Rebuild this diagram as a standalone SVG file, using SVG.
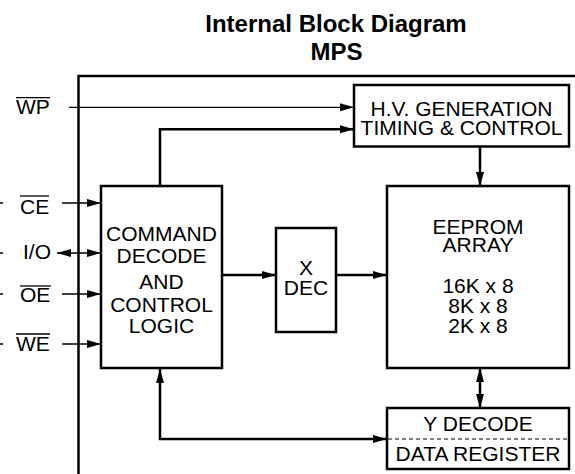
<svg xmlns="http://www.w3.org/2000/svg" width="575" height="474" viewBox="0 0 575 474">
<style>
text{font-family:"Liberation Sans",Arial,sans-serif;fill:#000;}
.t{font-size:21px;text-anchor:middle;}
.h{font-size:24px;font-weight:bold;text-anchor:middle;}
.l{font-size:21px;}
.box{fill:#fff;stroke:#000;stroke-width:2.5;}
.thick{fill:none;stroke:#000;stroke-width:2.5;}
.thin{fill:none;stroke:#000;stroke-width:1.3;}
.bar{stroke:#000;stroke-width:1.3;}
</style>
<defs>
<marker id="ah" markerUnits="userSpaceOnUse" markerWidth="15" markerHeight="9" refX="14" refY="4.5" orient="auto-start-reverse">
<path d="M0,0.5 L14,4.5 L0,8.5 z" fill="#000"/>
</marker>
</defs>
<g id="title">
<text class="h" x="336" y="32">Internal Block Diagram</text>
<text class="h" x="336.5" y="60">MPS</text>
</g>
<g id="frame">
<path class="thick" d="M78.5,474 V76 H575"/>
</g>
<g id="connectors">
<path class="thin" d="M69,107.3 H354" marker-end="url(#ah)"/>
<path class="thick" d="M160,186 V129.3 H354" marker-end="url(#ah)"/>
<path class="thick" d="M480,147 V186" marker-end="url(#ah)"/>
<path class="thin" d="M62,203 H101" marker-end="url(#ah)"/>
<path class="thin" d="M57,253 H101" marker-start="url(#ah)" marker-end="url(#ah)"/>
<path class="thin" d="M62,294 H101" marker-end="url(#ah)"/>
<path class="thin" d="M62,344 H101" marker-end="url(#ah)"/>
<path class="thin" d="M0,203 H3 M0,253 H3 M0,294 H3 M0,344 H3"/>
<path class="thick" d="M222,275 H276" marker-end="url(#ah)"/>
<path class="thick" d="M336,275 H387" marker-end="url(#ah)"/>
<path class="thick" d="M480,368 V408" marker-start="url(#ah)" marker-end="url(#ah)"/>
<path class="thick" d="M160,369 V439 H387" marker-start="url(#ah)" marker-end="url(#ah)"/>
</g>
<g id="signals">
<text class="l" x="16" y="114">WP</text>
<line class="bar" x1="16" y1="97.7" x2="50" y2="97.7"/>
<text class="l" x="20" y="214">CE</text>
<line class="bar" x1="20" y1="196" x2="49" y2="196"/>
<text class="l" x="23" y="259">I/O</text>
<text class="l" x="20" y="302">OE</text>
<line class="bar" x1="20" y1="286" x2="51" y2="286"/>
<text class="l" x="16" y="351">WE</text>
<line class="bar" x1="16" y1="334" x2="50" y2="334"/>
</g>
<g id="hv">
<rect class="box" x="354" y="85" width="215" height="61.5"/>
<text class="t" x="461.5" y="115.7">H.V. GENERATION</text>
<text class="t" x="461.5" y="135">TIMING &amp; CONTROL</text>
</g>
<g id="cmd">
<rect class="box" x="101" y="186" width="121" height="182"/>
<text class="t" x="161.5" y="241">COMMAND</text>
<text class="t" x="161.5" y="263">DECODE</text>
<text class="t" x="161.5" y="289">AND</text>
<text class="t" x="161.5" y="312">CONTROL</text>
<text class="t" x="161.5" y="333">LOGIC</text>
</g>
<g id="xdec">
<rect class="box" x="276" y="228" width="60" height="104"/>
<text class="t" x="306" y="275">X</text>
<text class="t" x="306" y="295">DEC</text>
</g>
<g id="eeprom">
<rect class="box" x="387" y="186" width="182" height="182"/>
<text class="t" x="478" y="234">EEPROM</text>
<text class="t" x="478" y="252">ARRAY</text>
<text class="t" x="478" y="293">16K x 8</text>
<text class="t" x="478" y="313">8K x 8</text>
<text class="t" x="478" y="333">2K x 8</text>
</g>
<g id="ydec">
<rect class="box" x="387" y="408" width="182" height="61"/>
<line x1="388" y1="439" x2="568" y2="439" stroke="#000" stroke-width="1.2" stroke-dasharray="4,3"/>
<text class="t" x="478" y="431">Y DECODE</text>
<text class="t" x="478" y="461">DATA REGISTER</text>
</g>
</svg>
